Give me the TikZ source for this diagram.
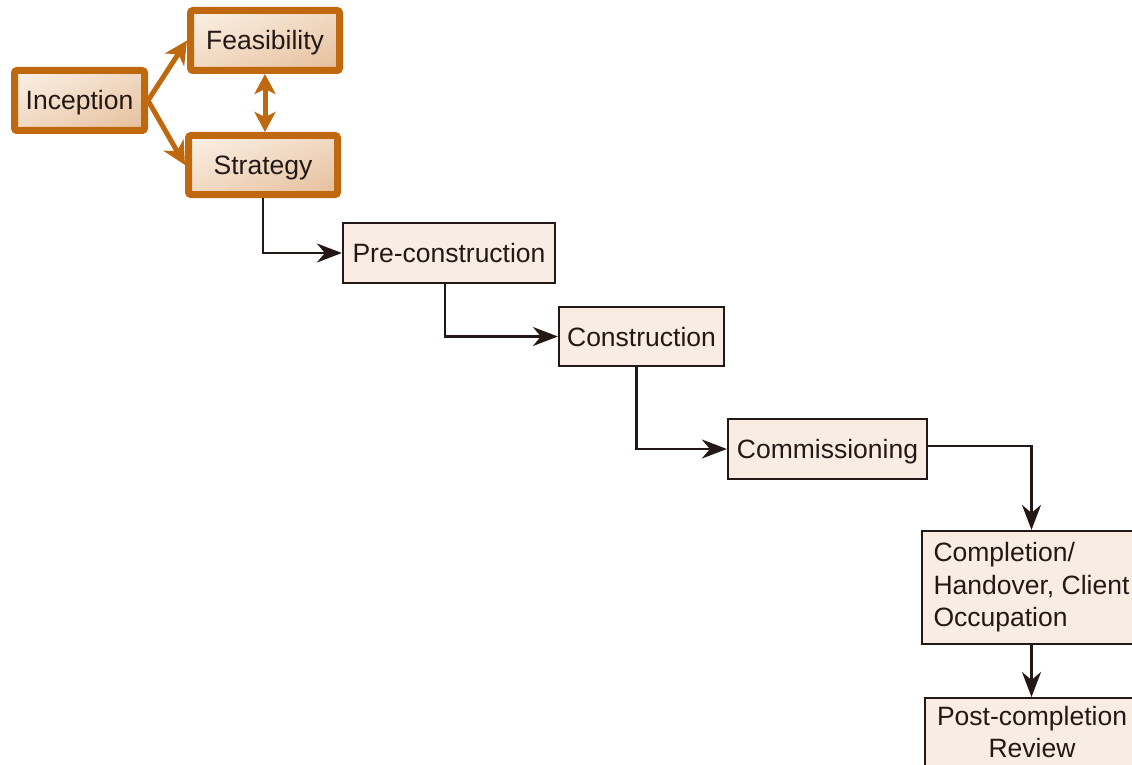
\documentclass[tikz,border=0pt]{standalone}
\usepackage{fontspec}
\setmainfont{Liberation Sans}
\usetikzlibrary{arrows.meta,calc,shadings}
\definecolor{rust}{HTML}{C0680E}
\definecolor{ink}{HTML}{231815}
\definecolor{paper}{HTML}{F9EDE3}
\definecolor{peachL}{HTML}{FBF1E7}
\definecolor{peachM}{HTML}{F1D9C2}
\definecolor{peachD}{HTML}{E5BE9A}
\tikzset{
  phase/.style={draw=rust, line width=7pt, rounded corners=2.5pt,
    upper left=peachL, upper right=peachM, lower left=peachM, lower right=peachD,
    font=\fontsize{26.5}{32.5}\selectfont, text=ink, inner sep=0pt,
    text height=19pt, text depth=0pt},
  stage/.style={draw=ink, line width=2.2pt, fill=paper,
    font=\fontsize{26.5}{32.5}\selectfont, text=ink, inner sep=0pt},
  oneline/.style={text height=19pt, text depth=0pt},
  orangearrow/.style={draw=rust, line width=5pt,
    -{Stealth[length=23pt,width=23pt,inset=7pt]}},
  twoway/.style={draw=rust, line width=5pt,
    {Stealth[length=20pt,width=21pt,inset=5pt]}-{Stealth[length=20pt,width=21pt,inset=5pt]}},
  flow/.style={draw=ink, line width=2.5pt,
    -{Stealth[length=25pt,width=19pt,inset=8pt]}}
}
\begin{document}
\begin{tikzpicture}[x=1pt,y=-1pt]
\useasboundingbox (0,0) rectangle (1132,765);

% front-end phases
\node[phase, minimum width=130pt, minimum height=60pt] (inc) at (79.5,100.5) {Inception};
\node[phase, minimum width=149pt, minimum height=60pt] (fea) at (265,40.5) {Feasibility};
\node[phase, minimum width=149pt, minimum height=59pt] (str) at (263,165) {Strategy};

% delivery stages
\node[stage, oneline, minimum width=212pt, minimum height=60pt] (pre) at (449,253) {Pre-construction};
\node[stage, oneline, minimum width=165pt, minimum height=59pt] (con) at (641.5,336.5) {Construction};
\node[stage, oneline, minimum width=199pt, minimum height=60pt] (com) at (827.5,449) {Commissioning};
\node[stage, minimum width=219pt, minimum height=113pt, align=left] (cpl) at (1031.5,587.5)
  {Completion/\\Handover, Client\\Occupation};
\node[stage, anchor=north, minimum width=214pt, align=center, inner ysep=8pt,
  text depth=16pt] (pcr) at (1032,697)
  {Post-completion\\Review};

% connectors
\draw[orangearrow] (inc.east) -- (fea.west);
\draw[orangearrow] (inc.east) -- (str.west);
\draw[twoway] (fea.south) -- (fea.south |- str.north);

\draw[flow] (str.south) |- (pre.west);
\draw[flow] ([xshift=-4pt]pre.south) |- (con.west);
\draw[flow] ([xshift=-5pt]con.south) |- (com.west);
\draw[flow] ([yshift=3pt]com.east) -| (cpl.north);
\draw[flow] (cpl.south) -- (cpl.south |- pcr.north);
\end{tikzpicture}
\end{document}
